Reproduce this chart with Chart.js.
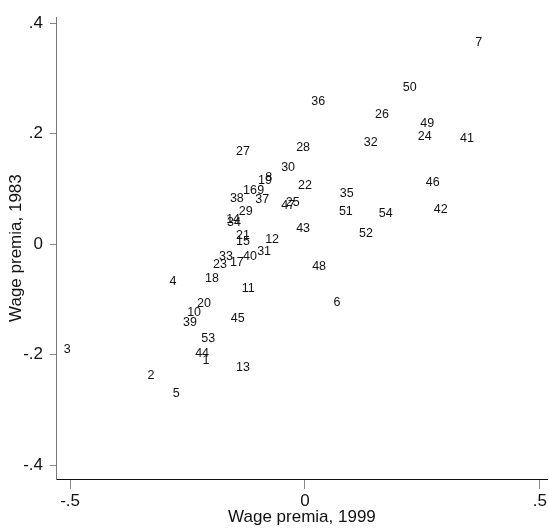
<!DOCTYPE html>
<html>
<head>
<meta charset="utf-8">
<script src="https://cdn.jsdelivr.net/npm/chart.js@4"></script>
<style>
    body { margin: 0; background: #fff; }
    canvas { display: block; }
</style>
</head>
<body>
<canvas id="scatter-chart" width="549" height="531"></canvas>
<script>
// industry id, wage premia 1999 (x), wage premia 1983 (y)
var ids = [1, 2, 3, 4, 5, 6, 7, 8, 9, 10,
    11, 12, 13, 14, 15, 16, 17, 18, 19, 20,
    21, 22, 23, 24, 25, 26, 27, 28, 29, 30,
    31, 32, 33, 34, 35, 36, 37, 38, 39, 40,
    41, 42, 43, 44, 45, 46, 47, 48, 49, 50,
    51, 52, 53, 54];
var premia1999 = [-0.211, -0.328, -0.506, -0.281, -0.274, 0.068, 0.370, -0.077, -0.094, -0.236,
    -0.121, -0.070, -0.132, -0.153, -0.132, -0.117, -0.145, -0.198, -0.085, -0.215,
    -0.132, 0.000, -0.181, 0.255, -0.026, 0.164, -0.132, -0.004, -0.126, -0.036,
    -0.087, 0.140, -0.168, -0.151, 0.089, 0.028, -0.091, -0.145, -0.245, -0.117,
    0.345, 0.289, -0.004, -0.219, -0.143, 0.272, -0.036, 0.030, 0.260, 0.223,
    0.087, 0.130, -0.206, 0.172];
var premia1983 = [-0.211, -0.238, -0.191, -0.068, -0.270, -0.105, 0.366, 0.121, 0.097, -0.123,
    -0.081, 0.009, -0.223, 0.045, 0.004, 0.097, -0.034, -0.063, 0.115, -0.108,
    0.016, 0.106, -0.036, 0.195, 0.076, 0.234, 0.168, 0.175, 0.059, 0.139,
    -0.013, 0.184, -0.023, 0.040, 0.092, 0.258, 0.081, 0.083, -0.142, -0.023,
    0.191, 0.063, 0.029, -0.198, -0.135, 0.112, 0.070, -0.041, 0.218, 0.283,
    0.059, 0.020, -0.171, 0.056];
var xTicks = [-0.5, 0, 0.5];
var yTicks = [-0.4, -0.2, 0, 0.2, 0.4];

var points = ids.map(function (id, i) {
    return { x: premia1999[i], y: premia1983[i], id: id };
});

function fmt(v) {
    if (v === 0) return "0";
    var s = Math.abs(v).toFixed(1).replace(/^0/, "");
    return (v < 0 ? "-" : "") + s;
}

// draw the id numbers in place of markers
var idLabels = {
    id: "idLabels",
    afterDatasetsDraw: function (chart) {
        var ctx = chart.ctx;
        var xs = chart.scales.x, ys = chart.scales.y;
        ctx.save();
        ctx.font = "12.5px 'Liberation Sans', Arial, sans-serif";
        ctx.fillStyle = "#111";
        ctx.textAlign = "center";
        ctx.textBaseline = "middle";
        points.forEach(function (p) {
            ctx.fillText(String(p.id), xs.getPixelForValue(p.x), ys.getPixelForValue(p.y));
        });
        ctx.restore();
    },
};

var ctx = document.getElementById("scatter-chart").getContext("2d");
var font = { family: "'Liberation Sans', Arial, sans-serif", size: 17 };

var scatterChart = new Chart(ctx, {
    type: "scatter",
    data: {
        datasets: [{ data: points, pointRadius: 0, pointHoverRadius: 0 }],
    },
    options: {
        responsive: false,
        animation: false,
        layout: { padding: { top: 15, right: 1, left: 0, bottom: 0 } },
        plugins: { legend: { display: false }, tooltip: { enabled: false } },
        scales: {
            x: {
                min: -0.53,
                max: 0.517,
                afterBuildTicks: function (scale) {
                    scale.ticks = xTicks.map(function (v) { return { value: v }; });
                },
                afterFit: function (scale) { scale.height = 52; },
                grid: { drawOnChartArea: false, tickLength: 10, color: "#888", tickWidth: 1 },
                border: { color: "#111", width: 1 },
                ticks: { callback: fmt, color: "#111", font: font, padding: 2, maxRotation: 0 },
                title: { display: true, text: "Wage premia, 1999", color: "#111", font: font, padding: { top: 0, bottom: 3 } },
            },
            y: {
                min: -0.425,
                max: 0.411,
                afterBuildTicks: function (scale) {
                    scale.ticks = yTicks.map(function (v) { return { value: v }; });
                },
                afterFit: function (scale) { scale.width = 56; },
                grid: { drawOnChartArea: false, tickLength: 6, color: "#888", tickWidth: 1 },
                border: { color: "#777", width: 1 },
                ticks: { callback: fmt, color: "#111", font: font, padding: 7 },
                title: { display: true, text: "Wage premia, 1983", color: "#111", font: font, padding: { top: 6, bottom: 0 } },
            },
        },
    },
    plugins: [idLabels],
});
</script>
</body>
</html>
